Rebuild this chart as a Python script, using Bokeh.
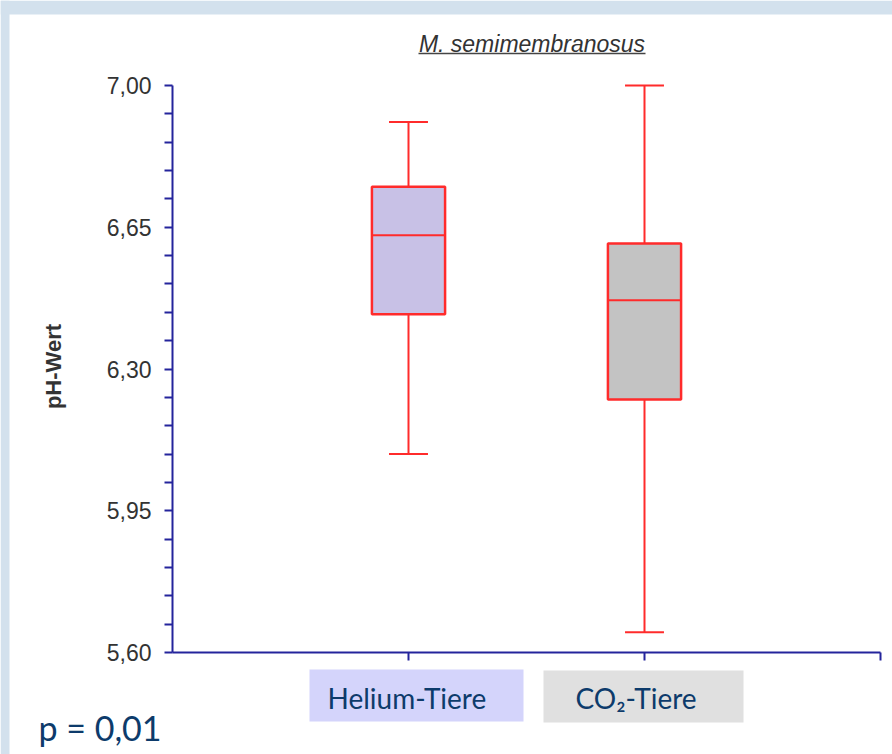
import math
from bokeh.plotting import figure
from bokeh.models import Range1d, FixedTicker, CustomJSTickFormatter, LinearAxis
from bokeh.core.properties import value
from bokeh.embed import file_html
from bokeh.resources import INLINE

# ---------------- data ----------------
groups = ["Helium-Tiere", "CO₂-Tiere"]
positions = [1, 2]
whisker_low = [6.09, 5.65]
q1 = [6.435, 6.225]
median = [6.63, 6.47]
q3 = [6.75, 6.61]
whisker_high = [6.91, 7.00]
y_ticks = [5.60, 5.95, 6.30, 6.65, 7.00]
y_minor_ticks = [5.67, 5.74, 5.81, 5.88, 6.02, 6.09, 6.16, 6.23, 6.37, 6.44,
                 6.51, 6.58, 6.72, 6.79, 6.86, 6.93]
x_ticks = [1, 2, 3]
title_text = "M. semimembranosus"
y_label = "pH-Wert"
p_value_text = "p = 0,01"

# ---------------- styles / layout ----------------
box_fills = ["#C8C1E6", "#C3C3C3"]
legend_fills = ["#D4D4FB", "#E0E0E0"]
FRAME_BLUE = "#D3E1ED"
RED = "#FF2B2B"
AXIS = "#24249C"
TXT = "#333333"
BLUE_TXT = "#0D3B6B"
BOX_W = 0.31
CAP_W = 0.165

W, H = 892, 754
Y_MIN, Y_MAX = 5.6, 7.0
X_MIN, X_MAX = 0, 3
# pixel geometry of the plotting area (canvas pixels)
AX_LEFT_PX, AX_BOTTOM_PX = 172, 652
PX_PER_X, PX_PER_Y = 236, 405


def X(px):
    """canvas pixel -> data x"""
    return X_MIN + (px - AX_LEFT_PX) / PX_PER_X


def Y(py):
    """canvas pixel -> data y"""
    return Y_MIN + (AX_BOTTOM_PX - py) / PX_PER_Y


p = figure(width=W, height=H, output_backend="svg", toolbar_location=None,
           x_range=Range1d(X(0), X(W)), y_range=Range1d(Y(H), Y(0)),
           x_axis_location=None, y_axis_location=None, min_border=0)
p.outline_line_color = None
p.background_fill_color = "white"
p.border_fill_color = "white"
p.grid.visible = False

# light blue slide frame (top and left edges)
p.quad(left=[X(0), X(0)], right=[X(W), X(9)], top=[Y(0), Y(0)], bottom=[Y(14), Y(H)],
       fill_color=FRAME_BLUE, line_color=None)

# y axis
yax = LinearAxis(fixed_location=X_MIN, bounds=(Y_MIN, Y_MAX),
                 ticker=FixedTicker(ticks=y_ticks, minor_ticks=y_minor_ticks),
                 formatter=CustomJSTickFormatter(code="return tick.toFixed(2).replace('.', ',');"))
yax.axis_line_color = AXIS
yax.axis_line_width = 2
yax.major_tick_line_color = AXIS
yax.major_tick_line_width = 2
yax.minor_tick_line_color = AXIS
yax.minor_tick_line_width = 2
yax.major_tick_out = 8
yax.major_tick_in = 0
yax.minor_tick_out = 8
yax.minor_tick_in = 0
yax.major_label_text_font = "Liberation Sans"
yax.major_label_text_font_size = "23px"
yax.major_label_text_color = TXT
yax.major_label_standoff = 13
p.add_layout(yax, "left")

# x axis (ticks only, no labels)
xax = LinearAxis(fixed_location=Y_MIN, bounds=(X_MIN, X_MAX),
                 ticker=FixedTicker(ticks=x_ticks, minor_ticks=[]),
                 formatter=CustomJSTickFormatter(code="return '';"))
xax.axis_line_color = AXIS
xax.axis_line_width = 2
xax.major_tick_line_color = AXIS
xax.major_tick_line_width = 2
xax.major_tick_out = 8
xax.major_tick_in = 0
xax.minor_tick_line_color = None
p.add_layout(xax, "below")

# whiskers
p.segment(x0=positions, y0=q3, x1=positions, y1=whisker_high, line_color=RED, line_width=2)
p.segment(x0=positions, y0=q1, x1=positions, y1=whisker_low, line_color=RED, line_width=2)
p.segment(x0=[x - CAP_W / 2 for x in positions], y0=whisker_high,
          x1=[x + CAP_W / 2 for x in positions], y1=whisker_high, line_color=RED, line_width=2)
p.segment(x0=[x - CAP_W / 2 for x in positions], y0=whisker_low,
          x1=[x + CAP_W / 2 for x in positions], y1=whisker_low, line_color=RED, line_width=2)
# boxes
p.vbar(x=positions, bottom=q1, top=q3, width=BOX_W, fill_color=box_fills,
       line_color=RED, line_width=2.5)
p.segment(x0=[x - BOX_W / 2 for x in positions], y0=median,
          x1=[x + BOX_W / 2 for x in positions], y1=median, line_color=RED, line_width=2)

# title with underline
p.text(x=[X(531.5)], y=[Y(43)], text=[title_text], text_font=value("Liberation Sans"),
       text_font_style="italic", text_font_size="23px", text_color=TXT,
       text_align="center", text_baseline="middle")
p.segment(x0=[X(418)], x1=[X(645)], y0=[Y(53)], y1=[Y(53)],
          line_color="#444444", line_width=1.6)

# y axis title
p.text(x=[X(53)], y=[Y(366)], text=[y_label], angle=math.pi / 2,
       text_font=value("Liberation Sans"), text_font_style="bold", text_font_size="22px",
       text_color=TXT, text_align="center", text_baseline="middle")

# category boxes under the axis
p.quad(left=[X(309), X(543)], right=[X(523), X(743)],
       top=[Y(669), Y(670)], bottom=[Y(721), Y(722)],
       fill_color=legend_fills, line_color=None)
p.text(x=[X(327), X(575)], y=[Y(697), Y(697)], text=groups,
       text_font=value("Lato"), text_font_size="28px", text_color=BLUE_TXT,
       text_align="left", text_baseline="middle")

# p value
p.text(x=[X(38)], y=[Y(727)], text=[p_value_text], text_font=value("Lato"),
       text_font_size="34px", text_color=BLUE_TXT, text_align="left",
       text_baseline="middle")

open("out.html", "w").write(file_html(p, INLINE))
